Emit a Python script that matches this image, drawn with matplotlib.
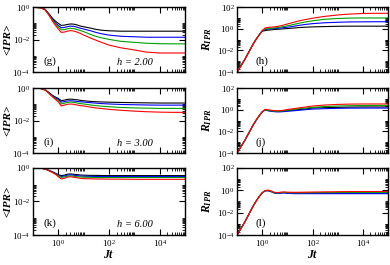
import matplotlib
matplotlib.use("Agg")
import matplotlib.pyplot as plt
from matplotlib.ticker import FixedLocator, NullFormatter

plt.rcParams['font.family'] = ['Liberation Serif', 'DejaVu Serif']
plt.rcParams['mathtext.fontset'] = 'custom'
plt.rcParams['mathtext.rm'] = 'Liberation Serif'
plt.rcParams['mathtext.it'] = 'Liberation Serif:italic:bold'
plt.rcParams['mathtext.bf'] = 'Liberation Serif:bold'

# time grid (Jt), shared by all curves
t = [0.1, 0.2, 0.3, 0.45, 0.6, 0.8, 1.0, 1.3, 1.7, 2.2, 3.0, 4.0, 5.5, 7.5, 10,
     20, 30, 50, 100, 300, 1e3, 3e3, 1e4, 3e4, 1e5]

# <IPR>, h = 2.00  (black, blue, green, red)
ipr_h2_k = [1.0, 0.93, 0.75, 0.35, 0.2, 0.13, 0.1, 0.075, 0.078, 0.085, 0.092, 0.09, 0.08, 0.068, 0.062,
            0.05, 0.043, 0.038, 0.035, 0.033, 0.033, 0.033, 0.033, 0.033, 0.033]
ipr_h2_b = [1.0, 0.92, 0.72, 0.32, 0.17, 0.1, 0.075, 0.054, 0.056, 0.062, 0.068, 0.066, 0.058, 0.05, 0.045,
            0.034, 0.028, 0.023, 0.019, 0.016, 0.015, 0.014, 0.014, 0.014, 0.014]
ipr_h2_g = [1.0, 0.91, 0.7, 0.3, 0.15, 0.085, 0.06, 0.04, 0.041, 0.046, 0.05, 0.048, 0.042, 0.036, 0.031,
            0.02, 0.016, 0.013, 0.0103, 0.0078, 0.0068, 0.006, 0.0056, 0.0055, 0.0055]
ipr_h2_r = [1.0, 0.9, 0.68, 0.28, 0.13, 0.07, 0.045, 0.028, 0.029, 0.033, 0.036, 0.034, 0.029, 0.024, 0.019,
            0.012, 0.0093, 0.0068, 0.0046, 0.0031, 0.0023, 0.0017, 0.0015, 0.0015, 0.0015]

# <IPR>, h = 3.00
ipr_h3_k = [1.0, 0.95, 0.8, 0.5, 0.35, 0.27, 0.23, 0.17, 0.18, 0.2, 0.21, 0.2, 0.19, 0.175, 0.165,
            0.15, 0.145, 0.14, 0.135, 0.13, 0.126, 0.123, 0.12, 0.12, 0.12]
ipr_h3_b = [1.0, 0.95, 0.78, 0.47, 0.32, 0.24, 0.2, 0.138, 0.145, 0.16, 0.166, 0.16, 0.15, 0.143, 0.138,
            0.125, 0.118, 0.111, 0.105, 0.098, 0.094, 0.091, 0.089, 0.089, 0.089]
ipr_h3_g = [1.0, 0.94, 0.77, 0.45, 0.3, 0.21, 0.17, 0.105, 0.115, 0.13, 0.138, 0.132, 0.12, 0.11, 0.105,
            0.09, 0.083, 0.077, 0.071, 0.064, 0.06, 0.058, 0.056, 0.056, 0.056]
ipr_h3_r = [1.0, 0.94, 0.76, 0.43, 0.28, 0.19, 0.14, 0.079, 0.088, 0.1, 0.105, 0.1, 0.09, 0.083, 0.079,
            0.066, 0.06, 0.055, 0.049, 0.043, 0.038, 0.035, 0.033, 0.032, 0.032]

# <IPR>, h = 6.00
ipr_h6_k = [1.0, 0.97, 0.88, 0.7, 0.58, 0.47, 0.4, 0.35, 0.37, 0.42, 0.44, 0.42, 0.4, 0.38, 0.37,
            0.36, 0.36, 0.355, 0.35, 0.35, 0.35, 0.35, 0.35, 0.35, 0.35]
ipr_h6_b = [1.0, 0.97, 0.87, 0.68, 0.56, 0.45, 0.37, 0.31, 0.33, 0.37, 0.39, 0.37, 0.35, 0.33, 0.32,
            0.315, 0.31, 0.31, 0.31, 0.31, 0.31, 0.31, 0.31, 0.31, 0.31]
ipr_h6_g = [1.0, 0.97, 0.87, 0.67, 0.54, 0.43, 0.34, 0.27, 0.29, 0.32, 0.34, 0.32, 0.3, 0.29, 0.28,
            0.275, 0.27, 0.27, 0.27, 0.27, 0.27, 0.27, 0.27, 0.27, 0.27]
ipr_h6_r = [1.0, 0.97, 0.86, 0.65, 0.52, 0.4, 0.3, 0.22, 0.24, 0.28, 0.3, 0.28, 0.26, 0.24, 0.23,
            0.225, 0.22, 0.22, 0.215, 0.215, 0.21, 0.21, 0.21, 0.21, 0.21]

# R_IPR, h = 2.00
r_h2_k = [1e-4, 1.4e-3, 8e-3, 0.045, 0.13, 0.33, 0.6, 0.68, 0.75, 0.8, 0.85, 0.9, 0.95, 1.0, 1.05,
          1.2, 1.3, 1.4, 1.5, 1.6, 1.7, 1.75, 1.75, 1.75, 1.75]
r_h2_b = [1e-4, 1.4e-3, 8e-3, 0.045, 0.13, 0.33, 0.65, 0.85, 0.95, 1.0, 1.05, 1.1, 1.2, 1.3, 1.4,
          1.8, 2.1, 2.5, 3.0, 3.6, 4.0, 4.3, 4.4, 4.5, 4.5]
r_h2_g = [1e-4, 1.4e-3, 8e-3, 0.045, 0.13, 0.33, 0.67, 0.95, 1.05, 1.1, 1.2, 1.3, 1.45, 1.65, 1.9,
          2.7, 3.3, 4.2, 5.5, 7.5, 9.0, 9.8, 10, 10, 10]
r_h2_r = [1e-4, 1.4e-3, 8e-3, 0.045, 0.13, 0.33, 0.7, 1.2, 1.35, 1.4, 1.5, 1.65, 1.9, 2.3, 2.8,
          4.3, 5.5, 7.0, 9.5, 14, 19, 23, 26, 27, 27]

# R_IPR, h = 3.00
r_h3_k = [1e-4, 1.4e-3, 8e-3, 0.045, 0.13, 0.33, 0.65, 0.95, 0.85, 0.78, 0.72, 0.7, 0.72, 0.78, 0.82,
          0.95, 1.05, 1.15, 1.45, 1.55, 1.65, 1.75, 1.8, 1.8, 1.8]
r_h3_b = [1e-4, 1.4e-3, 8e-3, 0.045, 0.13, 0.33, 0.65, 0.92, 0.8, 0.72, 0.66, 0.63, 0.64, 0.68, 0.72,
          0.82, 0.9, 1.0, 1.15, 1.25, 1.35, 1.4, 1.42, 1.42, 1.42]
r_h3_g = [1e-4, 1.4e-3, 8e-3, 0.045, 0.13, 0.33, 0.65, 0.98, 0.88, 0.8, 0.74, 0.72, 0.75, 0.82, 0.9,
          1.1, 1.25, 1.4, 1.65, 1.95, 2.2, 2.35, 2.45, 2.5, 2.5]
r_h3_r = [1e-4, 1.4e-3, 8e-3, 0.045, 0.13, 0.33, 0.65, 1.1, 1.0, 0.9, 0.82, 0.8, 0.83, 0.92, 1.05,
          1.3, 1.5, 1.75, 2.2, 2.7, 3.1, 3.3, 3.4, 3.4, 3.4]

# R_IPR, h = 6.00
r_h6_k = [1e-4, 1.4e-3, 8e-3, 0.045, 0.13, 0.33, 0.6, 0.9, 0.95, 0.8, 0.6, 0.55, 0.6, 0.62, 0.57,
          0.55, 0.55, 0.55, 0.55, 0.55, 0.55, 0.55, 0.55, 0.55, 0.55]
r_h6_b = [1e-4, 1.4e-3, 8e-3, 0.045, 0.13, 0.33, 0.6, 0.88, 0.92, 0.77, 0.57, 0.52, 0.56, 0.58, 0.53,
          0.5, 0.5, 0.5, 0.5, 0.5, 0.5, 0.5, 0.5, 0.5, 0.5]
r_h6_g = [1e-4, 1.4e-3, 8e-3, 0.045, 0.13, 0.33, 0.6, 0.92, 0.98, 0.83, 0.62, 0.58, 0.63, 0.66, 0.62,
          0.6, 0.6, 0.6, 0.62, 0.63, 0.64, 0.65, 0.65, 0.65, 0.65]
r_h6_r = [1e-4, 1.4e-3, 8e-3, 0.045, 0.13, 0.33, 0.6, 0.95, 1.05, 0.9, 0.66, 0.62, 0.68, 0.72, 0.68,
          0.66, 0.67, 0.68, 0.7, 0.72, 0.75, 0.77, 0.78, 0.78, 0.78]

colors = ['black', '#0000ff', '#00a000', '#ff0000']
h_labels = ['h = 2.00', 'h = 3.00', 'h = 6.00']
left_tags = ['(g)', '(i)', '(k)']
right_tags = ['(h)', '(j)', '(l)']

ipr_sets = [[ipr_h2_k, ipr_h2_b, ipr_h2_g, ipr_h2_r],
            [ipr_h3_k, ipr_h3_b, ipr_h3_g, ipr_h3_r],
            [ipr_h6_k, ipr_h6_b, ipr_h6_g, ipr_h6_r]]
r_sets = [[r_h2_k, r_h2_b, r_h2_g, r_h2_r],
          [r_h3_k, r_h3_b, r_h3_g, r_h3_r],
          [r_h6_k, r_h6_b, r_h6_g, r_h6_r]]

fig = plt.figure(figsize=(3.9, 2.65), dpi=100)

rows = [(0.728, 0.245), (0.4226, 0.245), (0.1132, 0.253)]
xminor = [k * 10.0 ** e for e in (0, 2, 4) for k in range(2, 11)]


def style_axis(ax, ylo_exp, yhi_exp, bottom):
    ax.set_xscale('log')
    ax.set_yscale('log')
    ax.set_xlim(0.1, 1e5)
    ax.set_ylim(10.0 ** ylo_exp, 10.0 ** yhi_exp)
    ax.xaxis.set_major_locator(FixedLocator([1, 1e2, 1e4]))
    ax.xaxis.set_minor_locator(FixedLocator(xminor))
    ymaj = [10.0 ** e for e in range(ylo_exp, yhi_exp + 1, 2)]
    ymin = [k * 10.0 ** e for e in range(ylo_exp, yhi_exp, 2) for k in range(2, 11)]
    ax.yaxis.set_major_locator(FixedLocator(ymaj))
    ax.yaxis.set_minor_locator(FixedLocator(ymin))
    ax.set_yticklabels(['$10^{%d}$' % e for e in range(ylo_exp, yhi_exp + 1, 2)])
    if bottom:
        ax.set_xticklabels(['$10^{0}$', '$10^{2}$', '$10^{4}$'])
    else:
        ax.xaxis.set_major_formatter(NullFormatter())
    ax.xaxis.set_minor_formatter(NullFormatter())
    ax.yaxis.set_minor_formatter(NullFormatter())
    ax.tick_params(which='both', direction='in', top=True, right=True, labelsize=6.5, pad=2)
    ax.tick_params(which='major', length=4, width=0.8)
    ax.tick_params(which='minor', length=2.2, width=0.6)
    for sp in ax.spines.values():
        sp.set_linewidth(1.0)


for i, (y0, hgt) in enumerate(rows):
    axl = fig.add_axes([0.0846, y0, 0.39, hgt])
    for vals, c in zip(ipr_sets[i], colors):
        axl.plot(t, vals, color=c, lw=0.8)
    style_axis(axl, -4, 0, i == 2)
    axl.set_ylabel('<IPR>', fontsize=8, fontweight='bold', style='italic')
    axl.yaxis.set_label_coords(-0.135, 0.5)
    axl.text(0.07, 0.17, left_tags[i], transform=axl.transAxes, fontsize=8, va='center')
    axl.text(0.55, 0.15, h_labels[i], transform=axl.transAxes, fontsize=7.5, style='italic', va='center')

    axr = fig.add_axes([0.608, y0, 0.387, hgt])
    for vals, c in zip(r_sets[i], colors):
        axr.plot(t, vals, color=c, lw=0.8)
    style_axis(axr, -4, 2, i == 2)
    axr.set_ylabel('$R_{IPR}$', fontsize=8.5)
    axr.yaxis.set_label_coords(-0.155, 0.5)
    axr.text(0.12, 0.17, right_tags[i], transform=axr.transAxes, fontsize=8, va='center')
    if i == 2:
        axl.set_xlabel('$Jt$', fontsize=8.5, labelpad=0)
        axr.set_xlabel('$Jt$', fontsize=8.5, labelpad=0)

fig.savefig('out.png', dpi=100)
